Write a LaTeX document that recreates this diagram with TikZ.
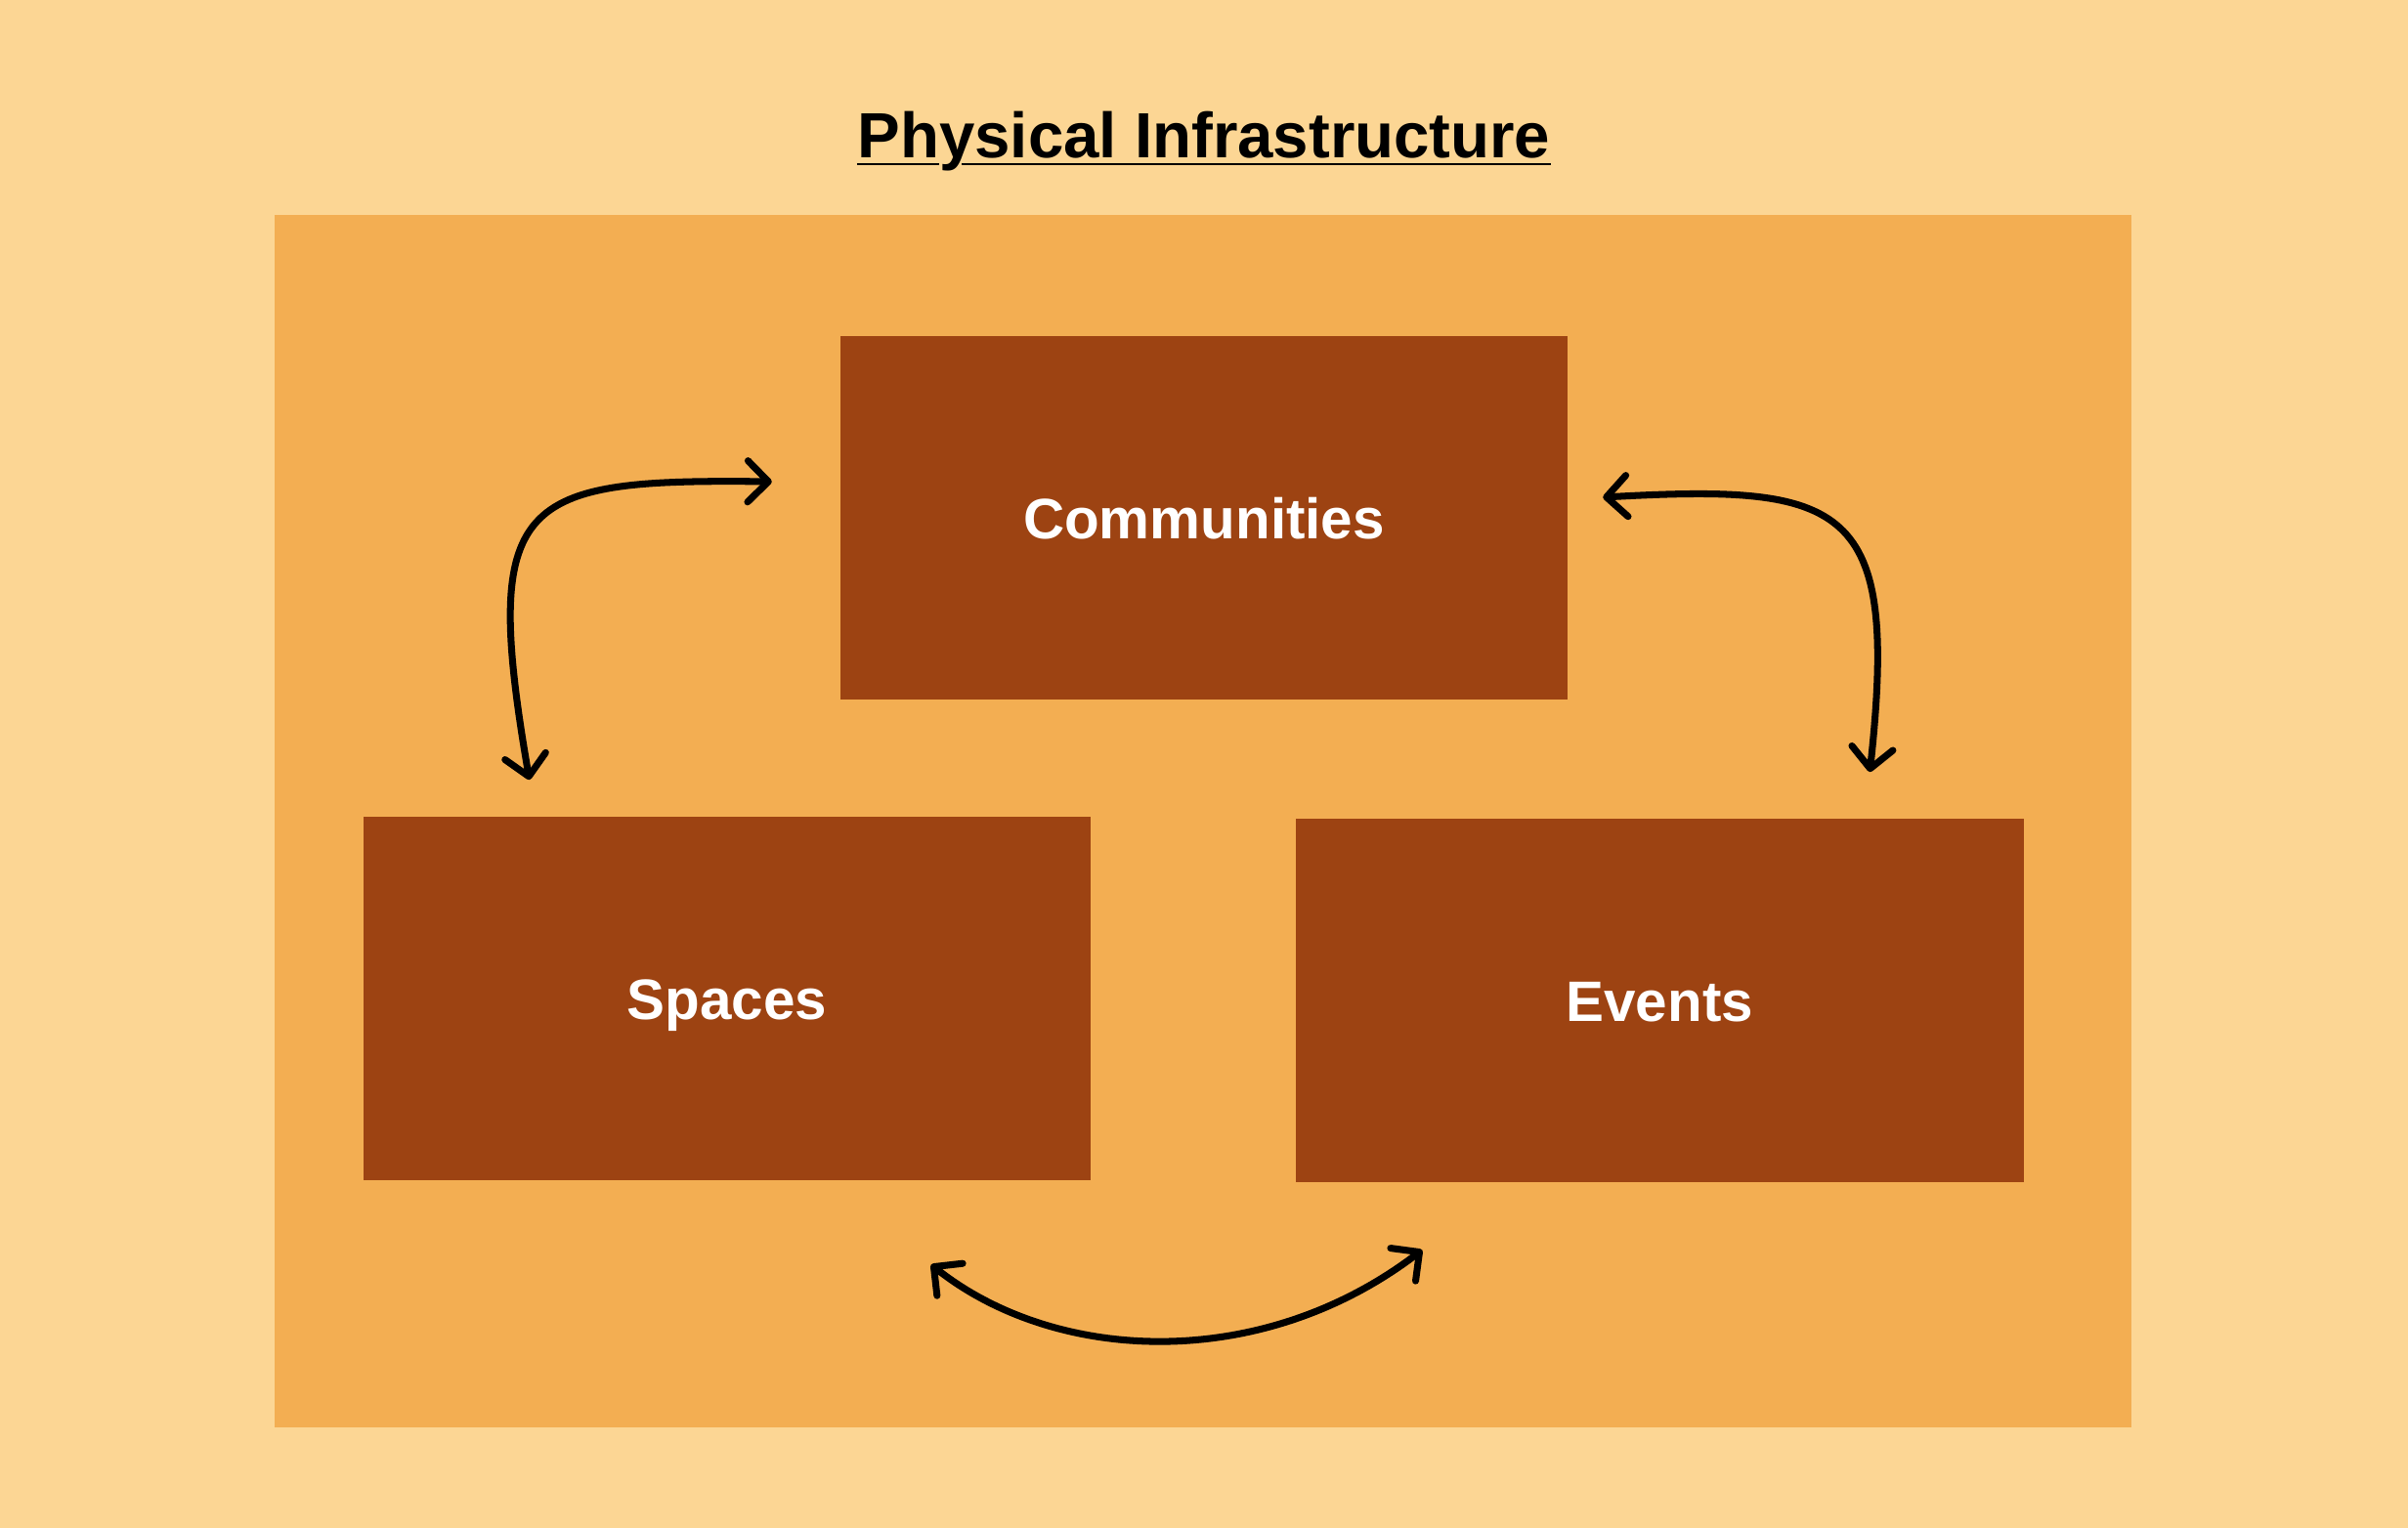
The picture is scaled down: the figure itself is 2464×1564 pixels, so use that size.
\documentclass[tikz,border=0pt]{standalone}
\usepackage{fontspec}
\setmainfont{Liberation Sans}
\usetikzlibrary{
  arrows.meta,
  calc,
  positioning,
}
\definecolor{bgcol}{HTML}{FCD694}
\definecolor{panelcol}{HTML}{F3AE52}
\definecolor{boxcol}{HTML}{9D4312}

\begin{document}
\begin{tikzpicture}[
    x = 0.01cm,
    y = -0.01cm,
    n/.style={
      fill=boxcol, text=white, minimum width=7.44cm, minimum height=3.72cm,
      inner sep=0pt, outer sep=0pt, text height=12pt, text depth=0pt,
      font=\fontsize{16.6pt}{20pt}\selectfont\bfseries,
    },
    a/.style={<->, line width=2pt,
      >={Straight Barb[length=6pt,width=12pt,round]}},
    t/.style={font=\fontsize{18.6pt}{22pt}\selectfont\bfseries, inner sep=0pt},
    u/.style={line width=0.85pt},]
  \fill[bgcol] (0,0) rectangle (2464,1564);
  \useasboundingbox (0,0) rectangle (2464,1564);
  \fill[panelcol] (281,220) rectangle (2181,1461);
  %%
  \node[n](Comm) at (1232,530) {Communities};
  \node[n,below=1.2cm of Comm,xshift=-4.88cm](Spaces){Spaces};
  \node[n,below=1.22cm of Comm,xshift=4.66cm](Events){Events};
  %%
  \node[t,anchor=base](Title) at (1232,162) {Physical Infrastructure};
  \draw[u]($(Title.base west)+(0,6)$) -- ($(Title.base west)+(84,6)$);
  \draw[u]($(Title.base west)+(107,6)$) -- ($(Title.base east)+(0,6)$);
  %%
  \coordinate (sp1) at ($(Spaces.north)+(-202,-38)$);
  \coordinate (cm1) at ($(Comm.west)+(-70,-37)$);
  \draw[a](sp1) .. controls +(-50,-290) and +(-260,-3) .. (cm1);
  %%
  \coordinate (cm2) at ($(Comm.east)+(36,-21)$);
  \coordinate (ev1) at ($(Events.north)+(215,-48)$);
  \draw[a](cm2) .. controls +(250,-14) and +(30,-275) .. (ev1);
  %%
  \coordinate (sp2) at ($(Spaces.south)+(209,86)$);
  \coordinate (ev2) at ($(Events.south)+(-243,69)$);
  \draw[a](sp2) .. controls +(127,101) and +(-165,126) .. (ev2);
\end{tikzpicture}
\end{document}
